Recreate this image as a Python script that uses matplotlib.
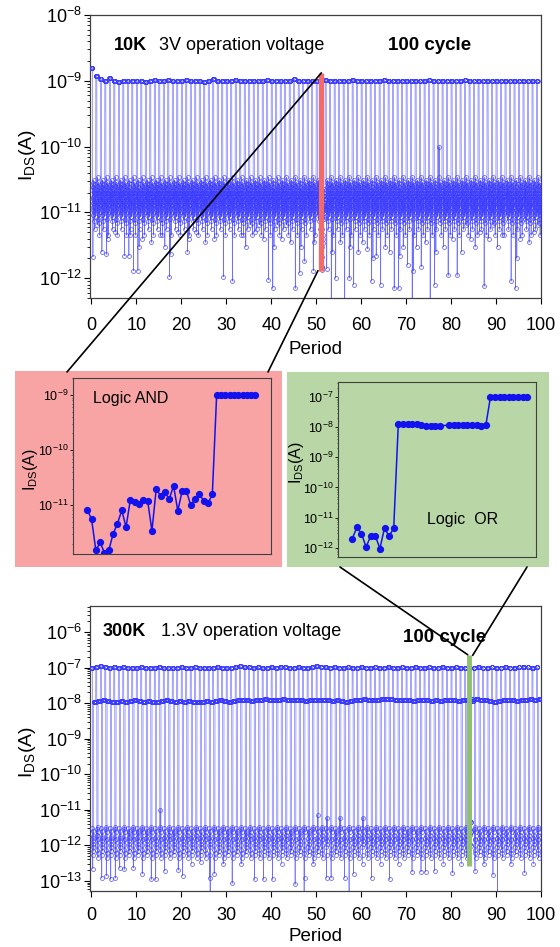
import numpy as np
import matplotlib
matplotlib.use("Agg")
import matplotlib.pyplot as plt
from matplotlib import ticker
from matplotlib.patches import Rectangle, ConnectionPatch

plt.rcParams["font.family"] = ["Liberation Sans", "DejaVu Sans"]
plt.rcParams["mathtext.fontset"] = "custom"
plt.rcParams["mathtext.rm"] = "Liberation Sans"
plt.rcParams["mathtext.it"] = "Liberation Sans:italic"
plt.rcParams["mathtext.bf"] = "Liberation Sans:bold"

# ---------------------------------------------------------------
# inset data: one cycle each, read off the two coloured boxes
# ---------------------------------------------------------------
and_low = [8.1e-12, 5.6e-12, 1.5e-12, 2.1e-12, 1.35e-12, 1.5e-12, 3.0e-12, 4.6e-12, 8.0e-12, 4.0e-12,
           1.25e-11, 1.13e-11, 1.06e-11, 1.25e-11, 1.2e-11, 3.4e-12, 2.0e-11, 1.46e-11, 1.75e-11, 1.27e-11,
           2.25e-11, 7.9e-12, 1.8e-11, 1.8e-11, 9.9e-12, 1.3e-11, 1.6e-11, 1.18e-11, 1.07e-11, 1.58e-11]
and_high = [1.0e-9, 1.0e-9, 1.0e-9, 1.0e-9, 1.0e-9, 1.0e-9, 1.0e-9, 1.0e-9, 1.0e-9, 1.0e-9]

or_low = [2.0e-12, 4.7e-12, 2.9e-12, 1.07e-12, 2.4e-12, 2.5e-12, 9.3e-13, 4.5e-12, 2.4e-12, 4.5e-12]
or_mid = [1.32e-8, 1.3e-8, 1.3e-8, 1.3e-8, 1.28e-8, 1.15e-8, 1.14e-8, 1.13e-8, 1.13e-8, 1.12e-8,
          1.18e-8, 1.18e-8, 1.17e-8, 1.16e-8, 1.16e-8, 1.15e-8, 1.15e-8, 1.14e-8, 1.15e-8]
or_high = [1.0e-7, 1.0e-7, 1.0e-7, 1.0e-7, 1.0e-7, 1.0e-7, 1.0e-7, 1.0e-7, 1.0e-7]
or_idx = list(range(0, 20)) + list(range(21, 39))   # one sample missing in the middle plateau

# ---------------------------------------------------------------
# 10 K panel: per-period levels (100 periods)
# ---------------------------------------------------------------
top_high = [1.55e-9, 1.2e-9, 1.05e-9, 0.98e-9, 1.12e-9, 1.0e-9, 0.97e-9, 1.0e-9, 0.98e-9, 1.0e-9,
            0.98e-9, 1.0e-9, 0.97e-9, 1.0e-9, 1.02e-9, 0.98e-9, 1.0e-9, 1.02e-9, 0.98e-9, 1.0e-9,
            1.0e-9, 1.03e-9, 0.98e-9, 1.0e-9, 1.0e-9, 0.97e-9, 1.0e-9, 1.05e-9, 1.0e-9, 0.98e-9,
            1.0e-9, 1.0e-9, 1.02e-9, 0.98e-9, 1.0e-9, 1.0e-9, 1.0e-9, 0.98e-9, 1.0e-9, 1.03e-9,
            1.0e-9, 1.0e-9, 0.98e-9, 1.0e-9, 1.0e-9, 1.05e-9, 1.0e-9, 0.98e-9, 1.0e-9, 1.0e-9,
            1.0e-9, 1.0e-9, 1.02e-9, 1.0e-9, 1.0e-9, 0.98e-9, 1.0e-9, 1.0e-9, 1.02e-9, 1.0e-9,
            1.0e-9, 0.98e-9, 1.0e-9, 1.0e-9, 1.0e-9, 1.02e-9, 1.0e-9, 0.98e-9, 1.0e-9, 1.0e-9,
            1.0e-9, 1.0e-9, 1.0e-9, 0.98e-9, 1.0e-9, 1.02e-9, 1.0e-9, 1.0e-9, 0.98e-9, 1.0e-9,
            1.0e-9, 1.0e-9, 1.0e-9, 1.02e-9, 1.0e-9, 0.98e-9, 1.0e-9, 1.0e-9, 1.0e-9, 1.0e-9,
            0.98e-9, 1.0e-9, 1.0e-9, 1.0e-9, 0.98e-9, 1.0e-9, 1.0e-9, 1.0e-9, 0.98e-9, 1.0e-9]
# two typical low-state cycles, used on alternate periods
top_low_a = [2.2e-11, 1.6e-11, 1.2e-11, 2.8e-11, 1.9e-11, 9.0e-12, 1.4e-11, 2.4e-11, 1.1e-11, 1.7e-11,
             3.1e-11, 2.0e-11, 1.3e-11, 7.5e-12, 1.5e-11, 2.6e-11, 1.8e-11, 1.0e-11, 2.1e-11, 1.4e-11,
             5.5e-12, 1.6e-11, 2.3e-11, 1.2e-11, 1.9e-11, 2.7e-11, 1.1e-11, 8.5e-12, 1.5e-11, 2.0e-11]
top_low_b = [1.3e-11, 2.5e-11, 1.0e-11, 1.5e-11, 6.5e-12, 2.0e-11, 3.4e-11, 1.2e-11, 1.8e-11, 8.0e-12,
             1.4e-11, 2.2e-11, 1.1e-11, 2.9e-11, 1.6e-11, 7.0e-12, 1.3e-11, 2.4e-11, 1.7e-11, 9.5e-12,
             1.2e-11, 2.0e-11, 4.5e-12, 1.5e-11, 2.6e-11, 1.0e-11, 1.8e-11, 1.3e-11, 2.1e-11, 1.6e-11]
top_dips = {0: [2.1e-12], 2: [2.5e-12], 3: [2.3e-12, 4e-12], 5: [5e-12], 7: [2.2e-12], 8: [2.2e-12, 4.5e-12],
            9: [1.3e-12], 10: [1.3e-12, 3e-12], 11: [4e-12], 13: [3.5e-12], 15: [4.5e-12], 16: [3e-12],
            17: [1.05e-12, 2.3e-12], 19: [5e-12], 21: [2.5e-12, 4e-12], 23: [5e-12], 25: [3.5e-12],
            27: [4e-12], 29: [1.05e-12], 31: [0.9e-12], 33: [4.5e-12], 34: [3e-12], 36: [5e-12],
            38: [4e-12], 39: [0.95e-12], 40: [0.7e-12, 3e-12], 42: [4e-12], 44: [3.5e-12], 45: [0.7e-12],
            46: [1.2e-12, 3e-12], 47: [1.8e-12], 49: [1.3e-12, 3.5e-12], 52: [1.4e-12],
            53: [3e-13, 2.5e-12], 54: [1.0e-12], 55: [3.5e-12], 56: [3e-13], 57: [1.0e-12, 3e-12],
            58: [0.8e-12], 59: [2.5e-12], 60: [3.5e-12], 61: [2.8e-12], 62: [0.9e-12, 2e-12],
            63: [2.2e-12], 64: [0.8e-12], 65: [3e-12], 66: [2.5e-12], 67: [0.7e-12], 68: [0.7e-12, 2.2e-12],
            69: [3e-12], 70: [1.6e-12], 71: [3e-13, 1.3e-12], 72: [3e-12], 73: [1.5e-12], 74: [3.5e-12],
            75: [3e-13], 76: [0.8e-12, 2.5e-12], 77: [1.0e-10], 78: [3e-12], 79: [1.1e-12], 80: [4e-12],
            81: [1.1e-12], 82: [2.5e-12], 84: [4e-12], 85: [3e-12], 86: [5e-12], 87: [0.75e-12],
            88: [4e-12], 90: [3e-12], 91: [4.5e-12], 93: [0.9e-12], 94: [0.7e-12, 2e-12], 95: [4e-12],
            96: [8e-12], 97: [3.5e-12], 98: [5e-12]}
and_period = 51

# ---------------------------------------------------------------
# 300 K panel: per-period levels (100 periods)
# ---------------------------------------------------------------
bot_high = [1.0e-7, 1.05e-7, 1.08e-7, 1.02e-7, 1.0e-7, 1.04e-7, 1.0e-7, 1.02e-7, 1.0e-7, 0.98e-7,
            1.0e-7, 1.02e-7, 1.0e-7, 0.98e-7, 1.0e-7, 1.02e-7, 1.0e-7, 0.98e-7, 1.0e-7, 1.0e-7,
            1.03e-7, 1.0e-7, 1.0e-7, 1.02e-7, 1.0e-7, 0.98e-7, 1.0e-7, 1.0e-7, 1.02e-7, 1.0e-7,
            0.98e-7, 1.0e-7, 1.05e-7, 1.08e-7, 1.05e-7, 1.02e-7, 1.0e-7, 1.02e-7, 1.0e-7, 1.0e-7,
            1.02e-7, 1.0e-7, 1.05e-7, 1.02e-7, 1.0e-7, 1.0e-7, 1.02e-7, 1.0e-7, 1.0e-7, 1.05e-7,
            1.08e-7, 1.05e-7, 1.02e-7, 1.0e-7, 1.02e-7, 1.0e-7, 1.0e-7, 1.02e-7, 1.0e-7, 1.0e-7,
            1.02e-7, 1.0e-7, 1.0e-7, 1.02e-7, 1.0e-7, 1.0e-7, 1.02e-7, 1.0e-7, 1.0e-7, 1.02e-7,
            1.0e-7, 1.0e-7, 1.02e-7, 1.0e-7, 1.0e-7, 1.02e-7, 1.0e-7, 1.0e-7, 1.02e-7, 1.0e-7,
            1.0e-7, 1.02e-7, 1.0e-7, 1.0e-7, 1.0e-7, 1.0e-7, 1.02e-7, 1.0e-7, 1.0e-7, 1.02e-7,
            1.0e-7, 1.0e-7, 1.02e-7, 1.0e-7, 1.0e-7, 1.02e-7, 1.05e-7, 1.02e-7, 1.0e-7, 1.02e-7]
bot_mid = [1.1e-8, 1.15e-8, 1.2e-8, 1.15e-8, 1.1e-8, 1.1e-8, 1.15e-8, 1.1e-8, 1.15e-8, 1.2e-8,
           1.15e-8, 1.1e-8, 1.15e-8, 1.1e-8, 1.1e-8, 1.15e-8, 1.2e-8, 1.15e-8, 1.1e-8, 1.15e-8,
           1.1e-8, 1.15e-8, 1.1e-8, 1.05e-8, 1.1e-8, 1.15e-8, 1.1e-8, 1.15e-8, 1.2e-8, 1.15e-8,
           1.1e-8, 1.15e-8, 1.2e-8, 1.25e-8, 1.2e-8, 1.15e-8, 1.2e-8, 1.25e-8, 1.3e-8, 1.25e-8,
           1.2e-8, 1.25e-8, 1.3e-8, 1.25e-8, 1.2e-8, 1.25e-8, 1.2e-8, 1.15e-8, 1.2e-8, 1.25e-8,
           1.2e-8, 1.25e-8, 1.2e-8, 1.15e-8, 1.2e-8, 1.15e-8, 1.1e-8, 1.15e-8, 1.2e-8, 1.25e-8,
           1.3e-8, 1.25e-8, 1.2e-8, 1.25e-8, 1.3e-8, 1.35e-8, 1.3e-8, 1.25e-8, 1.2e-8, 1.25e-8,
           1.2e-8, 1.15e-8, 1.2e-8, 1.25e-8, 1.2e-8, 1.15e-8, 1.2e-8, 1.15e-8, 1.2e-8, 1.25e-8,
           1.2e-8, 1.15e-8, 1.2e-8, 1.25e-8, 1.2e-8, 1.3e-8, 1.25e-8, 1.2e-8, 1.15e-8, 1.1e-8,
           1.15e-8, 1.2e-8, 1.25e-8, 1.2e-8, 1.15e-8, 1.2e-8, 1.25e-8, 1.3e-8, 1.25e-8, 1.3e-8]
bot_low_a = [3.0e-12, 1.6e-12, 9.0e-13, 2.2e-12, 5.5e-13, 1.3e-12, 2.6e-12, 7.0e-13, 1.8e-12, 1.1e-12]
bot_low_b = [1.4e-12, 2.8e-12, 7.5e-13, 1.9e-12, 1.0e-12, 3.3e-12, 6.0e-13, 1.5e-12, 2.3e-12, 4.5e-13]
bot_dips = {0: [2.2e-13], 2: [1.2e-13], 3: [1.4e-13], 4: [1.1e-13], 5: [1.2e-13], 6: [2.3e-13],
            7: [2.1e-13], 9: [2.3e-13], 11: [1.6e-13], 13: [1.1e-13], 14: [1.1e-13], 15: [1.0e-11],
            16: [1.9e-13], 19: [2e-13], 20: [1.4e-13], 22: [3e-13], 24: [3.5e-13], 26: [1.2e-13, 3e-14],
            27: [1.6e-13], 29: [3e-13], 31: [0.85e-13], 33: [3e-13], 36: [1.1e-13], 38: [1.1e-13],
            40: [1.1e-13], 42: [3e-13], 45: [0.8e-13], 47: [3e-14, 1.2e-13], 49: [3e-13], 50: [7e-12],
            52: [1.2e-13, 6e-12], 53: [1.2e-13], 55: [6e-12], 56: [1.2e-13], 57: [3e-14], 58: [1.6e-13],
            60: [3e-13, 6e-12], 62: [1.2e-13], 64: [3e-13], 66: [1.1e-13], 68: [3e-13], 71: [1.8e-13],
            73: [1.8e-13], 74: [1.8e-13], 76: [1.9e-13], 78: [3e-13], 80: [1.7e-13], 82: [3e-13],
            85: [1.9e-13], 87: [3e-13], 89: [1.5e-13], 90: [3e-14], 93: [3e-13], 96: [1.7e-13], 98: [3e-13]}
or_period = 84

BLUE_LINE = "#6e6eff"
BLUE_MARK = "#3c3cff"


def fx(px):
    return px / 560.0


def fy(py):
    return 1.0 - py / 947.0


def build_top():
    xs, ys = [], []
    for p in range(100):
        if p == and_period:
            low = list(and_low)
            high = [v * top_high[p] / 1.0e-9 for v in and_high]
        else:
            low = list(top_low_a if p % 2 == 0 else top_low_b)
            for k, v in enumerate(top_dips.get(p, [])):
                low[[4, 15, 24][k]] = v
            high = [top_high[p]] * len(and_high)
        seg = high + low
        n = len(seg)
        xs.extend(p + np.arange(n) / n)
        ys.extend(seg)
    return np.array(xs), np.array(ys)


def build_bottom():
    xs, ys = [], []
    for p in range(100):
        if p == or_period:
            seg = list(or_high) + list(or_low) + list(or_mid)
        else:
            low = list(bot_low_a if p % 2 == 0 else bot_low_b)
            for k, v in enumerate(bot_dips.get(p, [])):
                low[[3, 7][k]] = v
            seg = [bot_high[p]] * len(or_high) + low + [bot_mid[p]] * len(or_mid)
        n = len(seg)
        xs.extend(p + np.arange(n) / n)
        ys.extend(seg)
    return np.array(xs), np.array(ys)


def style_main(ax, ylo, yhi, xpad, lpad):
    ax.set_yscale("log")
    ax.set_ylim(ylo, yhi)
    ax.set_xlim(-0.3, 100)
    ax.xaxis.set_major_locator(ticker.MultipleLocator(10))
    ax.yaxis.set_major_locator(ticker.LogLocator(base=10, numticks=30))
    ax.yaxis.set_minor_locator(ticker.LogLocator(base=10, subs=np.arange(2, 10), numticks=30))
    ax.yaxis.set_minor_formatter(ticker.NullFormatter())
    ax.tick_params(axis="y", which="major", direction="out", length=4, width=0.8,
                   labelsize=13, pad=2)
    ax.tick_params(axis="y", which="minor", direction="out", length=2.2, width=0.6)
    ax.tick_params(axis="x", which="major", direction="out", length=4, width=0.8,
                   labelsize=13, pad=xpad)
    ax.tick_params(top=False, right=False, which="both")
    for s in ax.spines.values():
        s.set_color("#404040")
        s.set_linewidth(0.9)
    ax.set_xlabel("Period", fontsize=13.5, labelpad=lpad)


def draw_trace(ax, x, y):
    ax.plot(x, y, "-", color=BLUE_LINE, lw=0.45, zorder=2)
    ax.plot(x, y, "o", ms=2.8, mfc="none", mec=BLUE_MARK, mew=0.45, zorder=3)


fig = plt.figure(figsize=(5.6, 9.47), dpi=100)

# ----- 10 K panel -----
ax_top = fig.add_axes([fx(90), fy(298), fx(541) - fx(90), fy(15) - fy(298)])
tx, ty = build_top()
draw_trace(ax_top, tx, ty)
style_main(ax_top, 5e-13, 1e-8, xpad=9.5, lpad=5)
ax_top.vlines(51.15, 1.3e-12, 1.32e-9, color="#f26a6a", lw=3.8, zorder=4)
fig.text(fx(114), fy(46), "10K", fontsize=13, fontweight="bold", va="center", ha="left")
fig.text(fx(159), fy(46), "3V operation voltage", fontsize=13, va="center", ha="left")
fig.text(fx(388), fy(46), "100 cycle", fontsize=13.5, fontweight="bold", va="center", ha="left")
fig.text(fx(27), fy(155), r"I$_{\mathrm{DS}}$(A)", fontsize=14, rotation=90,
         va="center", ha="center")

# ----- 300 K panel -----
ax_bot = fig.add_axes([fx(90), fy(891), fx(541) - fx(90), fy(606) - fy(891)])
bx, by = build_bottom()
draw_trace(ax_bot, bx, by)
style_main(ax_bot, 5.2e-14, 5.4e-6, xpad=7.5, lpad=3)
ax_bot.vlines(84.0, 2.7e-13, 2.2e-7, color="#8fc06c", lw=3.5, zorder=4)
fig.text(fx(103), fy(632), "300K", fontsize=13, fontweight="bold", va="center", ha="left")
fig.text(fx(161), fy(632), "1.3V operation voltage", fontsize=13, va="center", ha="left")
fig.text(fx(403), fy(637), "100 cycle", fontsize=13.5, fontweight="bold", va="center", ha="left")
fig.text(fx(27), fy(752), r"I$_{\mathrm{DS}}$(A)", fontsize=14, rotation=90,
         va="center", ha="center")

# ----- coloured boxes with the single-cycle insets -----
fig.add_artist(Rectangle((fx(15), fy(567)), fx(282) - fx(15), fy(371) - fy(567),
                         transform=fig.transFigure, facecolor="#f8a4a4", edgecolor="none", zorder=0))
fig.add_artist(Rectangle((fx(287), fy(567)), fx(549) - fx(287), fy(372) - fy(567),
                         transform=fig.transFigure, facecolor="#b9d7a6", edgecolor="none", zorder=0))


def style_inset(ax):
    ax.set_facecolor("none")
    ax.set_yscale("log")
    ax.set_xticks([])
    ax.yaxis.set_major_locator(ticker.LogLocator(base=10, numticks=30))
    ax.yaxis.set_minor_locator(ticker.LogLocator(base=10, subs=np.arange(2, 10), numticks=30))
    ax.yaxis.set_minor_formatter(ticker.NullFormatter())
    ax.tick_params(axis="y", which="major", direction="out", length=2, width=0.6,
                   labelsize=9, pad=1.5)
    ax.tick_params(axis="y", which="minor", direction="out", length=1, width=0.4)
    for s in ax.spines.values():
        s.set_color("#404040")
        s.set_linewidth(0.8)


ax_and = fig.add_axes([fx(73), fy(554), fx(271) - fx(73), fy(378) - fy(554)])
ax_and.plot(np.arange(len(and_low) + len(and_high)), and_low + and_high, "-o",
            color="#1212f0", lw=1.1, ms=4.2)
style_inset(ax_and)
ax_and.set_xlim(-3.3, 42.6)
ax_and.set_ylim(1.29e-12, 2.04e-9)
ax_and.text(0.10, 0.885, "Logic AND", transform=ax_and.transAxes, fontsize=11.5,
            va="center", ha="left")
fig.text(fx(31), fy(470), r"I$_{\mathrm{DS}}$(A)", fontsize=11.5, rotation=90,
         va="center", ha="center")

ax_or = fig.add_axes([fx(338), fy(557), fx(536) - fx(338), fy(382) - fy(557)])
ax_or.plot(or_idx, or_low + or_mid + or_high, "-o", color="#1212f0", lw=1.1, ms=4.2)
style_inset(ax_or)
ax_or.set_xlim(-3.1, 39.9)
ax_or.set_ylim(4.9e-13, 3.2e-7)
ax_or.text(0.45, 0.215, "Logic  OR", transform=ax_or.transAxes, fontsize=11.5,
           va="center", ha="left")
fig.text(fx(296), fy(463), r"I$_{\mathrm{DS}}$(A)", fontsize=11.5, rotation=90,
         va="center", ha="center")

# ----- zoom connector lines -----
for xyA, axA, xyB in [((51.15, 1.32e-9), ax_top, (fx(67), fy(372))),
                      ((50.4, 1.3e-12), ax_top, (fx(268), fy(372))),
                      ((83.7, 2.3e-7), ax_bot, (fx(340), fy(567))),
                      ((84.8, 2.2e-7), ax_bot, (fx(527), fy(567)))]:
    con = ConnectionPatch(xyA=xyA, coordsA=axA.transData, xyB=xyB, coordsB=fig.transFigure,
                          color="black", lw=1.2, zorder=10)
    fig.add_artist(con)

fig.savefig("out.png", dpi=100)
